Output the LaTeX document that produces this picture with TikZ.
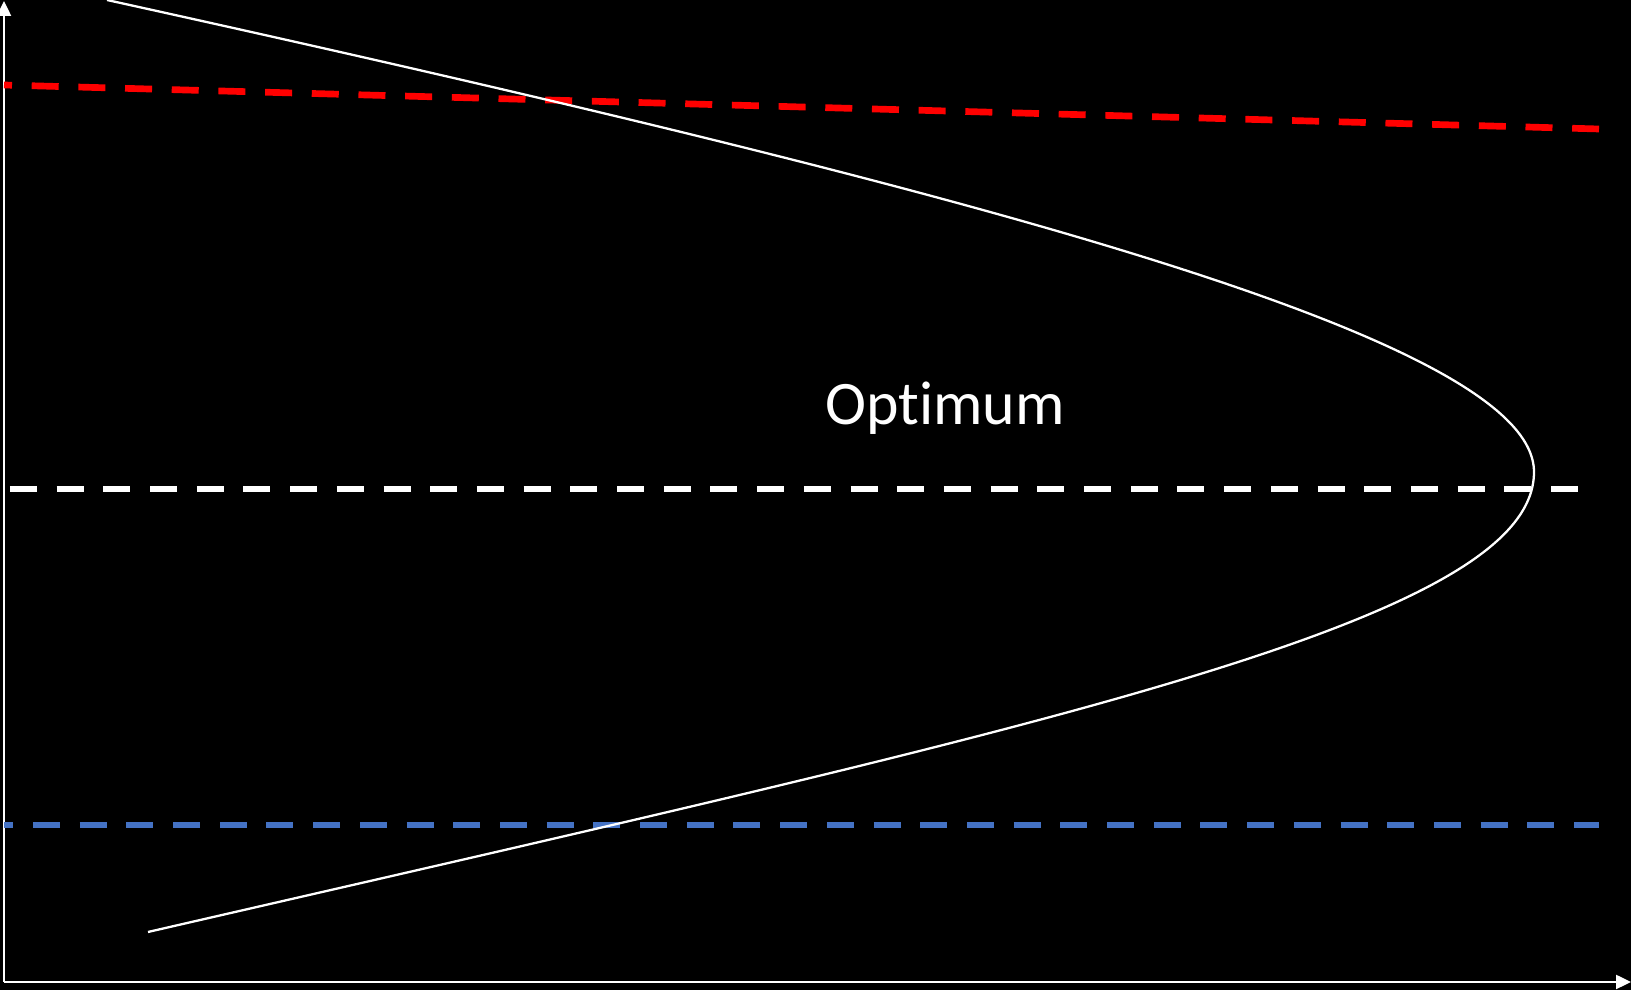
\documentclass[tikz,border=0pt]{standalone}
\usepackage{fontspec}
\setmainfont{Carlito}[Ligatures=NoCommon]
\usetikzlibrary{arrows.meta}
\definecolor{bg}{HTML}{000000}
\definecolor{fg}{HTML}{FFFFFF}
\definecolor{lvlhigh}{HTML}{FF0000}
\definecolor{lvllow}{HTML}{4472C4}

\begin{document}
\begin{tikzpicture}[
  x=0.1mm, y=-0.1mm,
  axis/.style={draw=fg, line width=0.7pt, -{Triangle[length=1.5mm, width=1.4mm]}},
  curve/.style={draw=fg, line width=0.65pt},
  level/.style={line width=1.9pt, dash pattern=on 2.7mm off 1.97mm},
  lbl/.style={text=fg, font=\fontsize{17.6}{20}\selectfont, inner sep=0pt},
]
\useasboundingbox (0,0) rectangle (1631,990);
\fill[bg] (0,0) rectangle (1631,990);

% axes
\coordinate (origin) at (4,982);
\coordinate (ytop) at (4,1);
\coordinate (xend) at (1631,982);
\draw[axis] (origin) -- (ytop);
\draw[axis] (origin) -- (xend);

% --- levels: upper limit, optimum, lower limit ---
\coordinate (hi-l) at (4,85);   \coordinate (hi-r) at (1599,129);
\coordinate (opt-l) at (10,489); \coordinate (opt-r) at (1580,489);
\coordinate (lo-l) at (4,825);  \coordinate (lo-r) at (1599,825);
\draw[level, draw=lvlhigh, dash phase=1.9mm] (hi-l) -- (hi-r);
\draw[level, draw=fg] (opt-l) -- (opt-r);
\draw[level, draw=lvllow, dash phase=1.77mm] (lo-l) -- (lo-r);

% response curve: two branches meeting at the tip
\coordinate (c-top) at (107,0);
\coordinate (c-tip) at (1534,472);
\coordinate (c-bot) at (148,932);
\draw[curve] (c-top) .. controls (1007,198) and (1534,342) .. (c-tip)
  .. controls (1534,622) and (1048,725) .. (c-bot);

\node[lbl, anchor=base] (opt) at (945,425) {Optimum};
\end{tikzpicture}
\end{document}
